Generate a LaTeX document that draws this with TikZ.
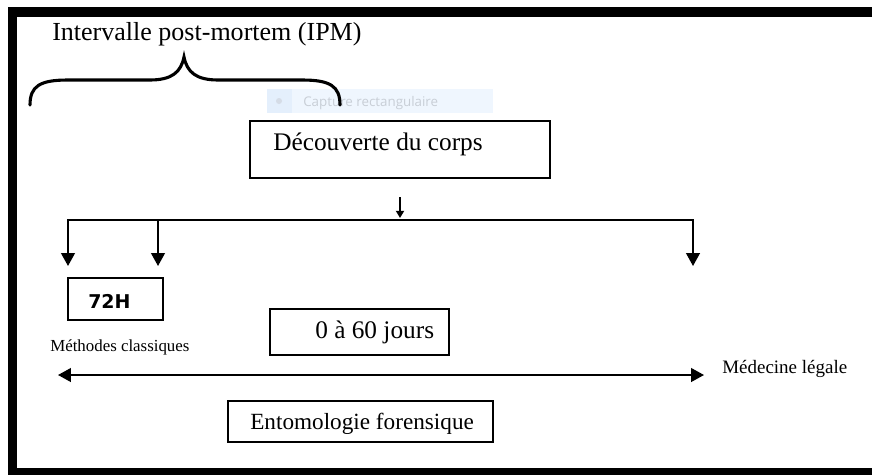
\documentclass[tikz,border=0pt]{standalone}
\usepackage{fontspec}
\setmainfont{Liberation Serif}
\newfontfamily\IPMSansFamily{DejaVu Sans}
\newfontfamily\IPMTipFamily{Open Sans}
\usetikzlibrary{positioning,calc,arrows.meta}
\definecolor{framecolor}{HTML}{000000}
\definecolor{tipfill}{HTML}{EFF6FE}
\definecolor{tipicon}{HTML}{E4EFFC}
\definecolor{tipdot}{HTML}{D5DCE6}
\definecolor{tiptext}{HTML}{C8CED6}
\newcommand{\IPMTitleFont}{\fontsize{18.5pt}{21pt}\selectfont}
\newcommand{\IPMBoxFont}{\fontsize{18pt}{21pt}\selectfont}
\newcommand{\IPMEntoFont}{\fontsize{16.5pt}{19pt}\selectfont}
\newcommand{\IPMCaptionFont}{\fontsize{12pt}{14pt}\selectfont}
\newcommand{\IPMSideFont}{\fontsize{13.5pt}{16pt}\selectfont}
\newcommand{\IPMHourFont}{\fontsize{13.5pt}{15pt}\selectfont\IPMSansFamily\bfseries}
\newcommand{\IPMTipFont}{\fontsize{9.5pt}{11pt}\selectfont\IPMTipFamily}
\tikzset{
  stagebox/.style={
    draw=black, line width=1.3pt, anchor=north west,
    inner sep=0pt, outer sep=0pt
  },
  boxtext/.style={anchor=base west, inner sep=0pt, font=\IPMBoxFont},
  flow/.style={draw=black, line width=1.3pt},
  flow arrow/.style={flow, -{Triangle[length=0.32cm, width=0.34cm]}},
  small arrow/.style={flow, -{Triangle[length=0.18cm, width=0.2cm]}},
  span arrow/.style={flow, {Triangle[length=0.32cm, width=0.34cm]}-{Triangle[length=0.32cm, width=0.34cm]}},
  brace line/.style={draw=black, line width=2.2pt, line cap=round}
}

\begin{document}
\begin{tikzpicture}[x=0.025cm, y=-0.025cm]
    \useasboundingbox (0,0) rectangle (872,475);
    \fill[white] (0,0) rectangle (872,475);
    \fill[framecolor] (8,7) rectangle (872,17);
    \fill[framecolor] (8,7) rectangle (17,475);
    \fill[framecolor] (8,468) rectangle (872,475);

    \fill[tipfill] (267,89) rectangle (493,113);
    \fill[tipicon] (267,89) rectangle (292,113);
    \fill[tipdot] (279,101) circle (3);
    \node[anchor=base west, inner sep=0pt, font=\IPMTipFont, text=tiptext] (tip) at (303,106) {Capture rectangulaire};

    \node[anchor=base west, inner sep=0pt, font=\IPMTitleFont] (ipm) at (52,40) {Intervalle post-mortem (IPM)};
    \path[brace line] (30,105) .. controls (30,86) and (40,80) .. (68,80) -- (150,80)
        .. controls (172,80) and (181,72) .. (184,57) .. controls (187,72) and (196,80) .. (218,80)
        -- (302,80) .. controls (330,80) and (340,86) .. (340,105);

    \node[stagebox, minimum width=7.5cm, minimum height=1.425cm] (decouv) at (250,121) {};
    \node[boxtext] (decouvtext) at (273,150) {Découverte du corps};

    \coordinate (drop) at (400,197);
    \coordinate (split) at (400,218);
    \coordinate (branchL) at (68,220);
    \coordinate (branchM) at (158,220);
    \coordinate (branchR) at (693,220);
    \coordinate (tipA) at (68,266);
    \coordinate (tipB) at (158,266);
    \coordinate (tipC) at (693,266);
    \draw[small arrow] (drop) -- (split);
    \draw[flow, line cap=rect] (branchL) -- (branchR);
    \draw[flow arrow] (branchL) -- (tipA);
    \draw[flow arrow] (branchM) -- (tipB);
    \draw[flow arrow] (branchR) -- (tipC);

    \node[stagebox, minimum width=2.375cm, minimum height=1.05cm] (hours) at (68,278) {};
    \node[anchor=base west, inner sep=0pt, font=\IPMHourFont] (hourstext) at (88,308) {72H};
    \node[anchor=base west, inner sep=0pt, font=\IPMCaptionFont] (classic) at (50,351) {Méthodes classiques};

    \node[stagebox, minimum width=4.475cm, minimum height=1.15cm] (days) at (270,309) {};
    \node[boxtext] (daystext) at (315,338) {0 à 60 jours};

    \coordinate (spanL) at (58,375);
    \coordinate (spanR) at (704,375);
    \draw[span arrow] (spanL) -- (spanR);
    \node[anchor=base west, inner sep=0pt, font=\IPMSideFont] (legal) at (722,373) {Médecine légale};

    \node[stagebox, minimum width=6.625cm, minimum height=1.025cm] (ento) at (228,401) {};
    \node[boxtext, font=\IPMEntoFont] (entotext) at (250,429) {Entomologie forensique};
\end{tikzpicture}
\end{document}
